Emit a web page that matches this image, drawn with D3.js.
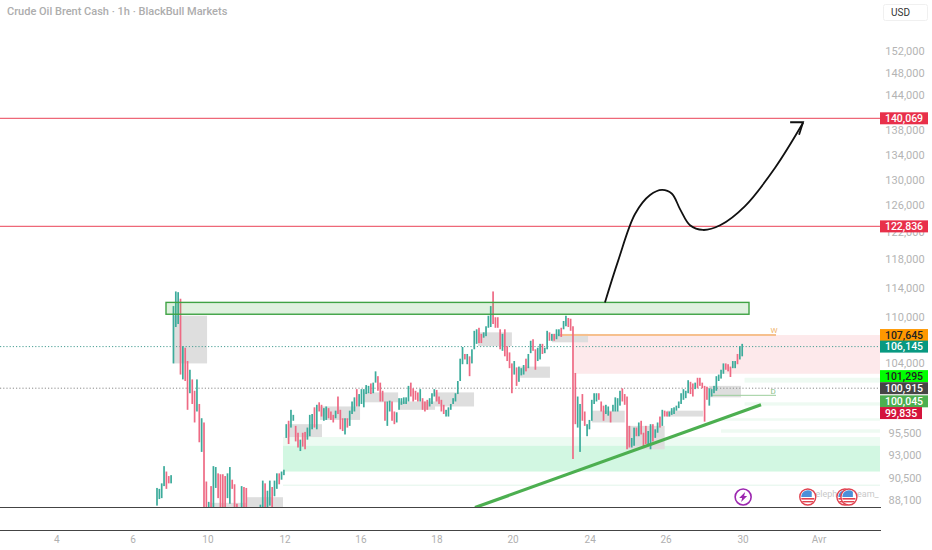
<!DOCTYPE html>
<html>
<head>
<meta charset="utf-8">
<script src="https://d3js.org/d3.v7.min.js"></script>
<style>
  html, body { margin: 0; padding: 0; background: #fff; }
  svg { display: block; font-family: Roboto, sans-serif; }
</style>
</head>
<body>
<svg id="chart" width="932" height="550"></svg>
<script>
// prices are in thousands, one bar per slot
var barHigh = [
  89.4,89.3,89.9,91.8,91.2,90.7,90.8,111.5,113.5,113.4,
  112.5,106.2,106.0,104.3,103.2,102.0,100.6,102.0,99.0,97.3,
  96.8,90.1,87.9,89.6,91.8,91.7,91.0,90.9,90.9,90.7,
  91.0,91.7,90.3,89.8,87.7,86.7,89.6,89.5,89.4,86.5,
  86.4,86.3,86.2,86.4,87.6,90.2,89.9,89.1,90.2,89.5,
  90.2,91.0,91.0,91.2,91.4,96.6,97.0,98.3,97.7,96.4,
  95.6,94.8,95.6,95.7,96.2,97.7,97.8,98.6,98.9,99.2,
  98.9,98.5,98.7,98.5,98.1,97.7,98.2,99.9,98.3,97.3,
  97.3,97.3,98.2,99.3,99.8,100.8,100.2,100.8,100.8,101.3,
  101.2,101.5,101.6,103.0,102.4,101.6,100.6,99.3,99.3,99.4,
  99.3,98.1,98.0,99.7,99.7,99.8,99.8,101.2,101.6,100.9,
  100.6,100.4,100.8,99.7,99.3,99.5,99.7,100.3,100.8,100.7,
  99.9,99.5,98.9,98.3,98.6,99.0,99.7,100.3,101.8,104.6,
  106.1,105.2,105.2,104.9,105.8,108.2,108.4,108.6,107.8,108.0,
  108.8,110.2,111.5,113.5,110.0,110.0,108.4,107.8,108.4,106.2,
  105.4,104.0,104.3,103.5,103.6,103.4,103.8,104.6,105.2,106.9,
  107.1,105.8,106.0,106.5,106.5,106.0,108.2,108.0,107.8,107.8,
  108.4,108.4,108.6,109.5,110.2,109.9,109.8,108.8,102.8,99.9,
  99.0,100.2,98.1,96.6,97.1,99.5,100.3,100.3,100.3,99.3,
  98.8,98.9,98.7,98.1,98.9,99.8,99.7,100.6,100.9,100.2,
  99.9,96.4,95.0,96.2,96.2,96.8,97.0,95.6,96.4,95.8,
  96.6,96.6,96.0,96.8,97.5,98.3,98.2,98.1,98.1,98.5,
  98.6,98.8,99.3,100.3,100.8,100.6,101.9,101.7,101.5,101.6,
  102.2,102.2,101.6,101.2,101.1,100.9,100.8,101.2,102.4,102.6,
  103.2,104.0,104.0,103.9,103.6,104.3,104.3,105.2,106.2,106.5
];
var barLow = [
  87.5,88.2,88.3,89.6,89.3,89.9,89.9,104.0,108.7,109.1,
  102.6,102.0,101.8,98.3,100.3,99.0,96.8,98.1,94.5,93.4,
  86.9,86.9,86.7,86.9,86.9,89.4,88.3,86.9,86.9,86.9,
  88.3,87.7,89.3,86.9,86.7,85.8,86.9,86.9,86.9,85.5,
  85.6,85.4,85.5,85.6,86.7,86.9,86.9,86.9,87.5,86.9,
  88.5,89.3,89.8,90.3,90.8,95.0,94.3,96.2,97.0,94.6,
  93.9,93.5,94.0,93.7,94.8,95.2,96.0,96.2,96.0,98.1,
  97.5,97.0,97.1,97.3,97.1,96.8,97.3,97.8,96.0,95.8,
  95.4,96.2,96.4,97.8,98.1,98.7,98.7,99.0,98.6,100.2,
  100.3,100.2,100.3,101.6,100.6,99.3,99.3,97.0,96.4,98.1,
  97.0,96.6,96.8,98.3,98.9,99.0,99.0,99.3,99.9,99.3,
  99.5,99.3,99.3,98.3,98.1,98.3,98.7,99.0,99.9,99.3,
  99.0,98.1,97.8,97.5,97.5,98.3,99.0,99.3,100.2,101.8,
  103.9,104.5,103.9,102.4,104.0,105.8,106.5,106.6,106.6,107.3,
  107.5,108.6,108.7,109.1,108.6,108.6,105.8,105.6,104.9,104.3,
  103.4,100.3,102.6,101.2,101.7,102.5,102.6,103.0,103.4,105.3,
  105.6,103.2,104.3,104.5,105.2,105.3,105.8,106.9,106.9,106.9,
  107.1,107.5,107.4,108.4,108.8,108.7,108.2,92.6,96.6,96.2,
  93.4,97.0,96.4,95.2,96.0,97.0,99.0,99.3,99.5,98.1,
  97.0,97.8,97.6,96.8,98.1,98.1,98.1,98.8,99.3,98.9,
  93.7,93.9,93.9,94.1,95.2,95.2,95.4,93.9,94.3,94.1,
  93.7,94.6,95.0,95.6,96.2,96.4,97.5,97.5,97.5,97.7,
  97.8,98.2,98.5,99.0,99.5,99.7,100.3,100.2,99.9,100.8,
  100.9,101.2,100.9,96.9,99.5,98.8,99.9,100.3,100.6,101.8,
  102.1,102.7,103.2,103.0,102.3,103.4,103.4,103.9,104.5,104.9
];
// u = closed up, d = closed down
var barDir = [
  "uuuudduuuu","dudduddudu","dduduudddd","uuddduuddu","ududuuduud",
  "uuduuuduud","dudduuudud","duuddduddd","uduuuduuuu","uduuddddu"+"u",
  "dduuuuuudd","ddudddu"+"uud","ddduuuuuuu","ududuuuddu","uuuddddudd",
  "dduduuuduu","dduuduudud","uuduuddddu","udduuuuudd","duuduuuudd",
  "dduududddu","uduududduu","uuuuuuuddu","ddddduuuuu","uuddduuduu"
].join("").split("");

// consolidation blocks
var zoneFrom = [6.8,22.5,38.3,55.7,69.4,87.7,103.4,118.3,136.6,154.5,168,185,200.4,217,234.9];
var zoneTo = [21.3,38.3,53.6,70.2,86.4,102.6,118.3,134.9,151,167.2,183.4,199,216,232.3,248.5];
var zoneTop = [110.2,87.8,88.4,96.6,98.7,100.4,99.3,100.4,108.0,103.6,107.8,98.2,96.4,98.2,101.2];
var zoneBottom = [104.0,86.0,86.0,95.1,97.1,99.2,98.3,98.7,106.2,102.2,106.7,96.8,93.7,97.5,99.8];

// faint bands on the right of the chart
var bandFrom = [250,250,240,240];
var bandTop = [102.2,99.2,97.3,96.0];
var bandBottom = [101.6,98.8,97.0,95.6];

var trendX = [135.3, 257];
var trendY = [87.3, 98.9];

var arrowX = [190.6,196.2,203.4,209.8,214.9,219.1,222.6,226.8,232.3,239.6,250.2,263,274.9];
var arrowY = [112.0,117.8,124.7,127.6,128.4,127.8,125.4,123.0,122.3,123.0,125.9,131.9,139.3];
var arrowHeadX = [269.4,274.9,273.2];
var arrowHeadY = [139.4,139.4,137.3];

var priceTicks = [152,148,144,138,134,130,126,122,118,114,110,104,95.5,93,90.5,88.1];
var timeLabels = ["4","6","10","12","16","18","20","24","26","30","Avr"];
var timeSlots = [-42.6,-10.2,21.7,54.5,86.8,119.1,151.5,184.3,216.6,249.4,281.7];

var tagValues = [140.069,122.836,107.645,106.145,101.295,100.915,100.045,99.835];
var tagShift = [0,0,0,0,-9,0,6,16];
var tagFill = ["#e8304a","#e8304a","#ff9800","#089981","#00ff00","#454545","#4caf50","#d4143c"];
var tagText = ["#fff","#fff","#222","#fff","#222","#fff","#fff","#fff"];

var flagSlots = [276.9,292.7,294.4];

var svg = d3.select("#chart");
var paneRight = 880, paneBottom = 507;

var x = d3.scaleLinear().domain([0, 249]).range([157, 742.2]);
var y = d3.scaleLog().domain([152, 88.1]).range([51, 500]);
var fmt = d3.format(",");
function thousands(v) { return fmt(Math.round(v * 1000)); }

svg.append("defs").append("clipPath").attr("id", "pane")
  .append("rect").attr("width", paneRight).attr("height", paneBottom);

var pane = svg.append("g").attr("clip-path", "url(#pane)");

// big demand zone and supply zone
pane.append("rect").attr("x", x(53.6)).attr("width", paneRight - x(53.6))
  .attr("y", y(95.1)).attr("height", y(94.1) - y(95.1)).attr("fill", "#ecfbf2");
pane.append("rect").attr("x", x(53.6)).attr("width", paneRight - x(53.6))
  .attr("y", y(94.1)).attr("height", y(91.2) - y(94.1)).attr("fill", "#d2f7e2");
pane.append("line").attr("x1", x(53.6)).attr("x2", paneRight)
  .attr("y1", y(89.7)).attr("y2", y(89.7)).attr("stroke", "#e2f5ea");
pane.append("rect").attr("x", x(177)).attr("width", paneRight - x(177))
  .attr("y", y(107.645)).attr("height", y(102.7) - y(107.645)).attr("fill", "#fde9eb");

bandTop.forEach(function (t, i) {
  pane.append("rect").attr("x", x(bandFrom[i])).attr("width", paneRight - x(bandFrom[i]))
    .attr("y", y(t)).attr("height", y(bandBottom[i]) - y(t)).attr("fill", "#eefaf2");
});

pane.selectAll(".zone").data(zoneFrom).enter().append("rect")
  .attr("class", "zone")
  .attr("x", function (d) { return x(d); })
  .attr("width", function (d, i) { return x(zoneTo[i]) - x(d); })
  .attr("y", function (d, i) { return y(zoneTop[i]); })
  .attr("height", function (d, i) { return y(zoneBottom[i]) - y(zoneTop[i]); })
  .attr("fill", "#dedede");

// horizontal levels
[140.069, 122.836].forEach(function (v) {
  pane.append("line").attr("x1", 0).attr("x2", paneRight)
    .attr("y1", y(v)).attr("y2", y(v)).attr("stroke", "#ee6878").attr("stroke-width", 1.2);
});
pane.append("line").attr("x1", 0).attr("x2", paneRight)
  .attr("y1", y(106.145)).attr("y2", y(106.145))
  .attr("stroke", "#4a9f95").attr("stroke-dasharray", "1.2 2");
pane.append("line").attr("x1", 0).attr("x2", paneRight)
  .attr("y1", y(100.915)).attr("y2", y(100.915))
  .attr("stroke", "#8a8a8a").attr("stroke-dasharray", "1.2 2");
pane.append("line").attr("x1", x(171.5)).attr("x2", 776)
  .attr("y1", y(107.645)).attr("y2", y(107.645)).attr("stroke", "#f6c08e").attr("stroke-width", 2);
pane.append("line").attr("x1", x(236)).attr("x2", 776)
  .attr("y1", y(100.045)).attr("y2", y(100.045)).attr("stroke", "#9ccf9c").attr("stroke-width", 1);
pane.append("text").attr("x", 774).attr("y", y(107.645) - 2).attr("text-anchor", "middle")
  .attr("font-size", 8).attr("fill", "#f0b36b").text("W");
pane.append("text").attr("x", 773).attr("y", y(100.045) - 1).attr("text-anchor", "middle")
  .attr("font-size", 8).attr("fill", "#8cc08c").text("D");

// bars
pane.selectAll(".bar").data(barHigh).enter().append("rect")
  .attr("class", "bar")
  .attr("x", function (d, i) { return x(i) - 0.85; })
  .attr("width", 1.7)
  .attr("y", function (d) { return y(d); })
  .attr("height", function (d, i) { return y(barLow[i]) - y(d); })
  .attr("fill", function (d, i) { return barDir[i] == "u" ? "#3cab9b" : "#ee6a84"; });

// resistance box on top of the bars
var boxL = 166, boxR = 749;
pane.append("rect").attr("x", boxL).attr("width", boxR - boxL)
  .attr("y", y(112.0)).attr("height", y(110.4) - y(112.0))
  .attr("fill", "#4caf50").attr("fill-opacity", 0.18)
  .attr("stroke", "#3fa344").attr("stroke-width", 1.4);

// rising trend line
pane.append("line")
  .attr("x1", x(trendX[0])).attr("y1", y(trendY[0]))
  .attr("x2", x(trendX[1])).attr("y2", y(trendY[1]))
  .attr("stroke", "#4caf50").attr("stroke-width", 3.2);

// projected path
var arrowLine = d3.line()
  .x(function (d) { return x(d[0]); })
  .y(function (d) { return y(d[1]); })
  .curve(d3.curveCatmullRom);
pane.append("path").datum(d3.zip(arrowX, arrowY)).attr("d", arrowLine)
  .attr("fill", "none").attr("stroke", "#111").attr("stroke-width", 1.8);
pane.append("path").datum(d3.zip(arrowHeadX, arrowHeadY))
  .attr("d", arrowLine.curve(d3.curveLinear))
  .attr("fill", "none").attr("stroke", "#111").attr("stroke-width", 1.8);

// watermark and event markers
svg.append("text").attr("x", 843).attr("y", 497).attr("text-anchor", "middle")
  .attr("font-size", 9).attr("fill", "#c8c8c8").text("@elephant_team_");

var bolt = svg.append("g").attr("transform", "translate(" + x(249.4) + ",497)");
bolt.append("circle").attr("r", 8).attr("fill", "#fff").attr("stroke", "#9c27b0").attr("stroke-width", 1.6);
bolt.append("path").attr("d", "M2,-5 L-4,1 L-1,1 L-2,5 L4,-1 L1,-1 Z").attr("fill", "#9c27b0");

flagSlots.forEach(function (s) {
  var g = svg.append("g").attr("transform", "translate(" + x(s) + ",497)");
  g.append("circle").attr("r", 8).attr("fill", "#fff").attr("stroke", "#e0424f").attr("stroke-width", 1.4);
  g.append("rect").attr("x", -6.5).attr("y", 1).attr("width", 13).attr("height", 1.6).attr("fill", "#e0424f");
  g.append("rect").attr("x", -5.5).attr("y", 4).attr("width", 11).attr("height", 1.4).attr("fill", "#e0424f");
  g.append("path").attr("d", "M-6.5,0 A6.5,6.5 0 0 1 4,-5.2 L4,0 Z").attr("fill", "#4a90d9");
});

// pane borders
[paneBottom, 530].forEach(function (v) {
  svg.append("line").attr("x1", 0).attr("x2", paneRight + 1).attr("y1", v + 0.5).attr("y2", v + 0.5)
    .attr("stroke", "#444").attr("stroke-width", 1.2);
});

// price axis
svg.selectAll(".ptick").data(priceTicks).enter().append("text")
  .attr("class", "ptick")
  .attr("x", 905).attr("y", function (d) { return y(d); })
  .attr("dy", "0.35em").attr("text-anchor", "middle")
  .attr("font-size", 11).attr("fill", "#b4b4b4")
  .text(function (d) { return thousands(d); });

var tags = svg.selectAll(".tag").data(tagValues).enter().append("g")
  .attr("class", "tag")
  .attr("transform", function (d, i) { return "translate(880," + (y(d) + tagShift[i]) + ")"; });
tags.append("rect").attr("y", -6).attr("height", 12)
  .attr("width", function (d) { return d < 100 ? 42 : 48; })
  .attr("fill", function (d, i) { return tagFill[i]; });
tags.append("text")
  .attr("x", function (d) { return d < 100 ? 21 : 24; })
  .attr("dy", "0.35em").attr("text-anchor", "middle")
  .attr("font-size", 10.5).attr("font-weight", 500)
  .attr("fill", function (d, i) { return tagText[i]; })
  .text(function (d) { return thousands(d); });

// time axis
svg.selectAll(".ttick").data(timeLabels).enter().append("text")
  .attr("class", "ttick")
  .attr("x", function (d, i) { return x(timeSlots[i]); })
  .attr("y", 539).attr("dy", "0.35em").attr("text-anchor", "middle")
  .attr("font-size", 10).attr("fill", "#b0b0b0")
  .text(function (d) { return d; });

// header
svg.append("text").attr("x", 7).attr("y", 15)
  .attr("font-size", 11).attr("font-weight", 500).attr("fill", "#adadad")
  .text("Crude Oil Brent Cash · 1h · BlackBull Markets");
svg.append("rect").attr("x", 883.5).attr("y", 4.5).attr("width", 44).attr("height", 16).attr("rx", 2)
  .attr("fill", "#fff").attr("stroke", "#f0f0f0");
svg.append("text").attr("x", 891).attr("y", 16).attr("font-size", 10).attr("fill", "#333").text("USD");
</script>
</body>
</html>
